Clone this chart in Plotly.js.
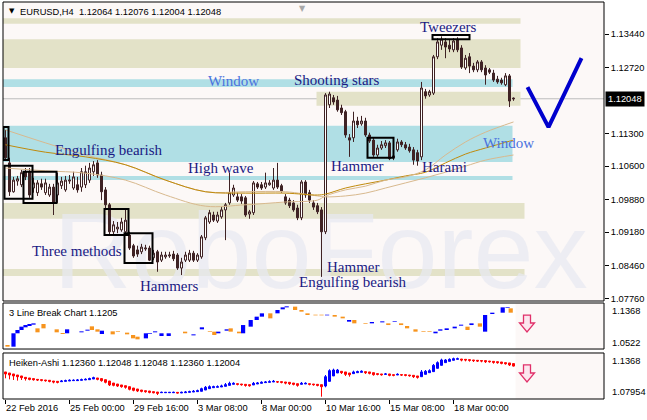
<!DOCTYPE html>
<html><head><meta charset="utf-8">
<script src="https://cdn.plot.ly/plotly-3.0.1.min.js"></script>
<style>html,body{margin:0;padding:0;background:#fff}#chart{width:647px;height:420px}</style>
</head><body><div id="chart"></div>
<script>
// ---------- EURUSD H4 candles (bar index 0..127) ----------
const openP = [1.1121,1.1067,1.1005,1.1028,1.1020,1.1048,1.1048,1.1013,1.1003,1.1022,
1.1003,1.0998,1.1015,1.0998,1.1018,1.1009,1.1028,1.1013,1.1020,1.1015,
1.1020,1.1030,1.1048,1.1067,1.1041,1.1009,1.0977,1.0919,1.0925,1.0923,
1.0919,1.0912,1.0889,1.0880,1.0876,1.0882,1.0884,1.0863,1.0876,1.0858,
1.0865,1.0867,1.0871,1.0869,1.0841,1.0858,1.0858,1.0873,1.0858,1.0865,
1.0906,1.0940,1.0955,1.0942,1.0951,1.0966,1.0981,1.0998,1.0994,1.0994,
1.0992,1.0957,1.0960,1.1022,1.1020,1.1015,1.1020,1.1013,1.1030,1.1018,
1.0994,1.0987,1.0981,1.0970,1.0949,1.1026,1.1003,1.0981,1.0975,1.0966,
1.0919,1.1192,1.1207,1.1202,1.1185,1.1177,1.1121,1.1121,1.1157,1.1151,
1.1157,1.1127,1.1116,1.1084,1.1099,1.1104,1.1110,1.1082,1.1095,1.1112,
1.1106,1.1101,1.1095,1.1089,1.1080,1.1220,1.1213,1.1217,1.1295,1.1320,
1.1327,1.1320,1.1310,1.1331,1.1314,1.1271,1.1295,1.1275,1.1267,1.1284,
1.1271,1.1267,1.1260,1.1247,1.1245,1.1235,1.1254,1.12064];
const highP = [1.1138,1.1078,1.1037,1.1039,1.1052,1.1056,1.1056,1.1035,1.1030,1.1033,
1.1033,1.1022,1.1022,1.1046,1.1037,1.1039,1.1041,1.1048,1.1037,1.1056,
1.1061,1.1067,1.1071,1.1073,1.1048,1.1015,1.0981,1.0942,1.0940,1.0949,
1.0966,1.0919,1.0893,1.0889,1.0893,1.0891,1.0889,1.0880,1.0880,1.0876,
1.0876,1.0876,1.0878,1.0873,1.0863,1.0876,1.0880,1.0878,1.0873,1.0912,
1.0953,1.0966,1.0962,1.0962,1.0972,1.0981,1.1046,1.1020,1.1003,1.1000,
1.0996,1.0966,1.1028,1.1026,1.1026,1.1046,1.1030,1.1056,1.1067,1.1022,
1.1000,1.0992,1.0987,1.0977,1.1030,1.1030,1.1009,1.0987,1.0981,1.0972,
1.1217,1.1220,1.1213,1.1211,1.1192,1.1181,1.1129,1.1177,1.1166,1.1168,
1.1164,1.1132,1.1121,1.1106,1.1114,1.1116,1.1114,1.1095,1.1119,1.1116,
1.1112,1.1108,1.1101,1.1095,1.1241,1.1226,1.1224,1.1299,1.1335,1.1339,
1.1335,1.1331,1.1335,1.1337,1.1320,1.1299,1.1303,1.1282,1.1288,1.1288,
1.1277,1.1271,1.1267,1.1254,1.1250,1.1260,1.1258,1.12076];
const lowP = [1.1073,1.0996,1.1003,1.1018,1.1015,1.1030,1.0992,1.1003,1.0996,1.1009,
1.0998,1.0994,1.0955,1.0981,1.1011,1.1005,1.1022,1.1009,1.1003,1.1005,
1.1013,1.1024,1.1039,1.1035,1.0987,1.0970,1.0914,1.0910,1.0916,1.0919,
1.0914,1.0880,1.0863,1.0865,1.0871,1.0878,1.0856,1.0858,1.0833,1.0854,
1.0861,1.0863,1.0856,1.0837,1.0826,1.0854,1.0854,1.0854,1.0854,1.0861,
1.0901,1.0936,1.0940,1.0938,1.0947,1.0901,1.0977,1.0994,1.0983,1.0979,
1.0951,1.0947,1.0955,1.1011,1.1009,1.1011,1.1018,1.1009,1.1011,1.1003,
1.0977,1.0970,1.0962,1.0944,1.0944,1.0992,1.0981,1.0966,1.0957,1.0822,
1.0914,1.1185,1.1192,1.1177,1.1170,1.1121,1.1080,1.1112,1.1142,1.1147,
1.1123,1.1110,1.1080,1.1080,1.1095,1.1099,1.1073,1.1073,1.1091,1.1101,
1.1095,1.1089,1.1063,1.1061,1.1073,1.1205,1.1209,1.1213,1.1290,1.1310,
1.1292,1.1305,1.1305,1.1305,1.1269,1.1267,1.1260,1.1262,1.1262,1.1262,
1.1235,1.1258,1.1241,1.1237,1.1235,1.1232,1.1187,1.12004];
const closeP = [1.1078,1.1005,1.1030,1.1033,1.1046,1.1037,1.0998,1.1024,1.1024,1.1015,
1.1024,1.1015,1.0981,1.1024,1.1028,1.1030,1.1030,1.1037,1.1009,1.1048,
1.1048,1.1056,1.1063,1.1041,1.1005,1.0977,1.0919,1.0934,1.0929,1.0940,
1.0944,1.0884,1.0867,1.0871,1.0886,1.0884,1.0858,1.0873,1.0854,1.0869,
1.0869,1.0869,1.0861,1.0841,1.0854,1.0869,1.0873,1.0858,1.0869,1.0908,
1.0949,1.0960,1.0944,1.0955,1.0966,1.0977,1.1003,1.1013,1.0987,1.0985,
1.0955,1.0962,1.1024,1.1015,1.1013,1.1024,1.1024,1.1030,1.1015,1.1007,
1.0981,1.0975,1.0966,1.0949,1.1026,1.0998,1.0987,1.0972,1.0962,1.0919,
1.1213,1.1215,1.1198,1.1181,1.1175,1.1127,1.1116,1.1157,1.1149,1.1157,
1.1127,1.1114,1.1084,1.1099,1.1106,1.1110,1.1076,1.1078,1.1112,1.1106,
1.1099,1.1093,1.1073,1.1071,1.1228,1.1211,1.1220,1.1295,1.1327,1.1333,
1.1316,1.1312,1.1329,1.1310,1.1273,1.1292,1.1275,1.1267,1.1284,1.1267,
1.1256,1.1262,1.1245,1.1241,1.1239,1.1254,1.1200,1.12048];

// ---------- moving averages (sampled) ----------
const maBars = [0,10,20,30,40,50,60,70,78,80,85,90,95,100,105,110,115,120,127];
const maFast = [1.1056,1.1050,1.1045,1.1030,1.0998,1.0974,1.0977,1.0983,1.0987,1.0996,1.1009,1.1017,1.1030,1.1037,1.1052,1.1084,1.1112,1.1133,1.1155];
const maMid  = [1.1106,1.1090,1.1080,1.1063,1.1030,1.1005,1.1002,1.1002,1.0998,1.1000,1.1013,1.1022,1.1030,1.1039,1.1047,1.1067,1.1086,1.1099,1.1116];
const maSlow = [1.1138,1.1110,1.1084,1.1063,1.1030,1.1005,1.1005,1.1005,1.0996,1.0994,1.0996,1.1002,1.1013,1.1024,1.1035,1.1047,1.1060,1.1073,1.1084];

// ---------- support / resistance zones ----------
const zoneFrom = [-0.625,-0.625,77.75,-0.625,-0.625,-0.625,-0.625,-0.625];
const zoneTo   = [128.75,128.75,128.75,129.75,129.75,126.75,126.75,126.75];
const zoneTop  = [1.1378,1.1333,1.1220,1.0981,1.0839,1.1247,1.1147,1.1039];
const zoneBot  = [1.1366,1.1271,1.1190,1.0947,1.0824,1.1230,1.1069,1.1030];
const zoneKind = ['beige','beige','beige','beige','beige','blue','blue','blue'];

// ---------- pattern frames ----------
const boxFrom = [-0.5,-0.25,4.5,24.75,29.75,90.5,106.75];
const boxTo   = [0.75,6.75,12.75,30.75,36.75,97,116];
const boxTop  = [1.1144,1.1061,1.1048,1.0968,1.0916,1.1121,1.1342];
const boxBot  = [1.1073,1.0990,1.0981,1.0912,1.0852,1.1078,1.1333];

// ---------- pattern labels ----------
const labelText  = ['Window','Shooting stars','Tweezers','Engulfing bearish','High wave','Hammer','Harami','Window','Three methods','Hammers','Hammer','Engulfing bearish'];
const labelBar   = [56.9,82.9,110.75,25.9,53.75,87.75,109.75,125.75,17.75,40.75,86.75,86.75];
const labelPrice = [1.1243,1.1245,1.1360,1.1095,1.1056,1.1061,1.1058,1.1110,1.0878,1.0802,1.0843,1.0811];
const labelKind  = ['window','pattern','pattern','pattern','pattern','pattern','pattern','window','pattern','pattern','pattern','pattern'];

// ---------- forecast tick mark ----------
const vBars = [130.5,135.75,144];
const vPrices = [1.1230,1.1144,1.1292];

const lastPrice = 1.12048;

// ---------- 3 Line Break panel ----------
const lbX = [0.5,2,3,4,5,6,7,8,9.5,12.8,14.3,15.4,19,20.5,21.6,23,24.1,26.8,28.1,30.4,31.9,33,35.1,36.1,37.4,39,40.8,44.9,47,49.1,51.1,52.2,53.2,55.3,56.3,58.4,59.4,61.3,62.8,64.1,66.2,68,69.3,70.3,72.4,74,75.5,77.5,79,80.4,82.3,84.3,85.9,87.2,90,91.6,94.2,95.7,97.3,98.9,100.4,102.5,104.5,106,107.5,108.7,110.3,112.3,113.9,115.5,116.5,118.6,119.9,121.7,124.3,125.5,126.3];
const lbLow = [1.0565,1.0565,1.0811,1.0872,1.0921,1.0945,1.0970,1.0829,1.0902,1.0829,1.0798,1.0811,1.0829,1.0859,1.0872,1.0841,1.0798,1.0792,1.0835,1.0792,1.0718,1.0700,1.0718,1.0804,1.0829,1.0761,1.0761,1.0811,1.0773,1.0884,1.0835,1.0780,1.0811,1.0859,1.0841,1.0811,1.0811,1.0933,1.1055,1.1117,1.1086,1.1178,1.1252,1.1288,1.1239,1.1209,1.1147,1.1141,1.1141,1.1141,1.1117,1.1086,1.1025,1.0994,1.0988,1.0994,1.1012,1.0963,1.1019,1.0963,1.0902,1.0841,1.0835,1.0835,1.0811,1.0859,1.0872,1.0902,1.0951,1.0872,1.0963,1.0933,1.0841,1.1166,1.1190,1.1282,1.1190];
const lbHigh = [1.0596,1.0811,1.0872,1.0933,1.0963,1.0982,1.0994,1.0902,1.0982,1.0884,1.0817,1.0884,1.0847,1.0878,1.0939,1.0884,1.0859,1.0847,1.0847,1.0823,1.0780,1.0749,1.0811,1.0817,1.0847,1.0811,1.0811,1.0841,1.0792,1.0921,1.0847,1.0841,1.0841,1.0884,1.0902,1.0841,1.0963,1.1055,1.1117,1.1178,1.1178,1.1239,1.1288,1.1307,1.1301,1.1239,1.1178,1.1153,1.1153,1.1153,1.1147,1.1117,1.1055,1.1055,1.1000,1.1019,1.1031,1.0994,1.1031,1.0994,1.0945,1.0884,1.0847,1.0847,1.0841,1.0884,1.0902,1.0933,1.0970,1.0933,1.0994,1.0994,1.1147,1.1190,1.1288,1.1294,1.1270];
const lbDir = ['dn','up','up','up','up','up','up','dn','dn','dn','dn','up','up','up','dn','dn','up','dn','dn','dn','dn','dn','up','up','up','up','up','dn','up','up','dn','dn','up','up','dn','dn','up','up','up','up','dn','up','up','up','dn','dn','dn','dn','dn','up','dn','dn','up','dn','dn','up','up','dn','up','dn','dn','dn','dn','dn','up','up','up','up','up','dn','up','dn','up','up','up','up','dn'];

// ---------- Heiken-Ashi panel ----------
const haO = [1.1132,1.1119,1.1107,1.1094,1.1082,1.1065,1.1057,1.1049,1.1040,1.1036,
1.1032,1.1028,1.1019,1.1015,1.1011,1.1015,1.1019,1.1024,1.1024,1.1028,
1.1032,1.1036,1.1044,1.1057,1.1049,1.1036,1.1019,1.0994,1.0982,1.0970,
1.0961,1.0949,1.0932,1.0920,1.0907,1.0899,1.0895,1.0887,1.0882,1.0874,
1.0874,1.0874,1.0874,1.0878,1.0870,1.0874,1.0878,1.0882,1.0887,1.0891,
1.0907,1.0924,1.0936,1.0941,1.0945,1.0953,1.0965,1.0978,1.0986,1.0982,
1.0978,1.0974,1.0970,1.0982,1.0990,1.0999,1.1003,1.1007,1.1011,1.1011,
1.1007,1.1003,1.0994,1.0986,1.0978,1.0982,1.0986,1.0982,1.0978,1.0974,
1.0957,1.1015,1.1082,1.1119,1.1140,1.1132,1.1119,1.1111,1.1123,1.1127,
1.1136,1.1132,1.1123,1.1111,1.1107,1.1102,1.1107,1.1098,1.1094,1.1098,
1.1098,1.1094,1.1090,1.1082,1.1073,1.1102,1.1123,1.1136,1.1177,1.1214,
1.1248,1.1264,1.1277,1.1289,1.1293,1.1289,1.1285,1.1281,1.1277,1.1273,
1.1273,1.1268,1.1264,1.1260,1.1256,1.1248,1.1244,1.1236];
const haC = [1.1107,1.1094,1.1082,1.1073,1.1061,1.1049,1.1040,1.1036,1.1032,1.1028,
1.1024,1.1015,1.1007,1.1003,1.1019,1.1024,1.1028,1.1028,1.1032,1.1036,
1.1040,1.1049,1.1061,1.1040,1.1024,1.1003,1.0970,1.0965,1.0957,1.0949,
1.0941,1.0916,1.0903,1.0895,1.0891,1.0887,1.0878,1.0874,1.0866,1.0878,
1.0878,1.0878,1.0878,1.0870,1.0878,1.0882,1.0887,1.0891,1.0899,1.0924,
1.0941,1.0949,1.0949,1.0949,1.0957,1.0974,1.0990,1.0990,1.0978,1.0974,
1.0965,1.0961,1.0990,1.0994,1.1003,1.1007,1.1011,1.1015,1.1007,1.1003,
1.0994,1.0986,1.0978,1.0965,1.0990,1.0990,1.0978,1.0974,1.0965,1.0949,
1.1073,1.1148,1.1156,1.1156,1.1123,1.1102,1.1098,1.1132,1.1136,1.1140,
1.1123,1.1115,1.1098,1.1102,1.1098,1.1107,1.1090,1.1090,1.1102,1.1094,
1.1090,1.1086,1.1073,1.1065,1.1132,1.1140,1.1148,1.1214,1.1248,1.1281,
1.1281,1.1289,1.1297,1.1297,1.1281,1.1281,1.1277,1.1273,1.1268,1.1268,
1.1260,1.1260,1.1252,1.1248,1.1239,1.1235,1.1219,1.1205];
const haH = [1.1132,1.1119,1.1107,1.1094,1.1082,1.1065,1.1057,1.1049,1.1040,1.1036,
1.1032,1.1028,1.1019,1.1015,1.1032,1.1036,1.1040,1.1040,1.1044,1.1049,
1.1053,1.1061,1.1073,1.1057,1.1049,1.1036,1.1019,1.0994,1.0982,1.0970,
1.0961,1.0949,1.0932,1.0920,1.0907,1.0899,1.0895,1.0887,1.0882,1.0887,
1.0882,1.0882,1.0887,1.0878,1.0887,1.0895,1.0899,1.0907,1.0912,1.0936,
1.0957,1.0965,1.0961,1.0965,1.0974,1.0994,1.1011,1.1003,1.0986,1.0982,
1.0978,1.0974,1.1007,1.1007,1.1015,1.1019,1.1028,1.1032,1.1011,1.1011,
1.1007,1.1003,1.0994,1.0986,1.1007,1.1003,1.0986,1.0982,1.0978,1.0974,
1.1094,1.1165,1.1173,1.1169,1.1140,1.1132,1.1119,1.1148,1.1148,1.1152,
1.1136,1.1132,1.1123,1.1111,1.1107,1.1119,1.1107,1.1098,1.1115,1.1098,
1.1098,1.1094,1.1090,1.1082,1.1156,1.1156,1.1165,1.1231,1.1264,1.1297,
1.1293,1.1301,1.1310,1.1310,1.1293,1.1289,1.1285,1.1281,1.1277,1.1273,
1.1273,1.1268,1.1264,1.1260,1.1256,1.1248,1.1244,1.1236];
const haL = [1.1053,1.1040,1.1032,1.1024,1.1032,1.1024,1.1028,1.1024,1.1019,1.1015,
1.1011,1.1003,1.0990,1.0990,1.1011,1.1015,1.1019,1.1024,1.1024,1.1028,
1.1032,1.1036,1.1044,1.1028,1.1011,1.0990,1.0957,1.0953,1.0945,1.0936,
1.0924,1.0903,1.0891,1.0882,1.0878,1.0874,1.0866,1.0866,1.0845,1.0874,
1.0874,1.0874,1.0874,1.0866,1.0870,1.0874,1.0878,1.0882,1.0887,1.0891,
1.0907,1.0924,1.0936,1.0941,1.0945,1.0953,1.0965,1.0978,1.0965,1.0961,
1.0949,1.0949,1.0970,1.0982,1.0990,1.0999,1.1003,1.1007,1.0994,1.0990,
1.0978,1.0970,1.0965,1.0949,1.0978,1.0982,1.0965,1.0961,1.0953,1.0824,
1.0941,1.1015,1.1082,1.1119,1.1107,1.1082,1.1073,1.1111,1.1123,1.1127,
1.1107,1.1102,1.1086,1.1090,1.1086,1.1102,1.1078,1.1078,1.1094,1.1082,
1.1078,1.1073,1.1057,1.1049,1.1073,1.1102,1.1123,1.1136,1.1177,1.1214,
1.1248,1.1264,1.1277,1.1289,1.1264,1.1264,1.1260,1.1256,1.1256,1.1252,
1.1244,1.1248,1.1235,1.1235,1.1227,1.1223,1.1206,1.1200];

// ---------- axis ticks ----------
const timeTickBars = [0,16,32,48,64,80,96,112];
const timeTickLabels = ['22 Feb 2016','25 Feb 00:00','29 Feb 16:00','3 Mar 08:00','8 Mar 00:00','10 Mar 16:00','15 Mar 08:00','18 Mar 00:00'];
const priceTicks = [1.1344,1.1272,1.1130,1.1060,1.0988,1.0918,1.0846,1.0776];
const priceTickLabels = ['1.13440','1.12720','1.11300','1.10600','1.09880','1.09180','1.08460','1.07760'];

// ---------- build ----------
const bars = openP.map((_, i) => i);
const CANDLE = '#3f2224';
const SANS = 'Liberation Sans, Arial, sans-serif';
const SERIF = 'Liberation Serif, Times New Roman, serif';
const TXT = 9.3;

const traces = [];
// watermark: text of an invisible bar so that it sits beneath the candles
traces.push({type:'bar', x:[78.75], base:[1.1012], y:[-0.0003], width:0.01, xaxis:'x', yaxis:'y',
  marker:{color:'rgba(0,0,0,0)', line:{width:0}}, text:['RoboForex'], textposition:'outside', textangle:0,
  constraintext:'none', cliponaxis:true, outsidetextfont:{family:SANS, size:108, color:'rgba(232,233,241,0.72)'},
  hoverinfo:'skip', showlegend:false});
traces.push({type:'candlestick', x:bars, open:openP, high:highP, low:lowP, close:closeP,
  xaxis:'x', yaxis:'y', whiskerwidth:0, hoverinfo:'skip', showlegend:false,
  increasing:{line:{color:CANDLE, width:1}, fillcolor:'#FFFFFF'},
  decreasing:{line:{color:CANDLE, width:1}, fillcolor:CANDLE}});
[[maSlow,'#D8B98E'],[maMid,'#C08A0C'],[maFast,'#D8B98E']].forEach(([v,c]) => {
  traces.push({type:'scatter', mode:'lines', x:maBars, y:v, xaxis:'x', yaxis:'y',
    line:{color:c, width:1, shape:'spline', smoothing:1}, hoverinfo:'skip', showlegend:false});
});
traces.push({type:'scatter', mode:'lines', x:vBars, y:vPrices, xaxis:'x', yaxis:'y',
  line:{color:'#0000CD', width:4}, hoverinfo:'skip', showlegend:false, cliponaxis:false});
traces.push({type:'bar', x:lbX, base:lbLow, y:lbHigh.map((h,i)=>h-lbLow[i]), width:1.05,
  xaxis:'x', yaxis:'y2', marker:{color:lbDir.map(d => d==='up' ? '#0000FF' : '#F7941D'), line:{width:0}},
  hoverinfo:'skip', showlegend:false});
traces.push({type:'candlestick', x:bars, open:haO, high:haH, low:haL, close:haC,
  xaxis:'x', yaxis:'y3', whiskerwidth:0, hoverinfo:'skip', showlegend:false,
  increasing:{line:{color:'#0000FF', width:1}, fillcolor:'#0000FF'},
  decreasing:{line:{color:'#FF0000', width:1}, fillcolor:'#FF0000'}});

const shapes = [];
['y2','y3'].forEach(ax => shapes.push({type:'rect', xref:'x', x0:-0.625, x1:127.5, yref:ax+' domain', y0:0, y1:1,
  fillcolor:'#FFFFFF', line:{width:0}, layer:'below'}));
zoneFrom.forEach((f,i) => shapes.push({type:'rect', xref:'x', yref:'y', x0:f, x1:zoneTo[i], y0:zoneBot[i], y1:zoneTop[i],
  fillcolor: zoneKind[i]==='beige' ? '#E3E2C8' : '#B0DFE5', line:{width:0}, layer:'below'}));
shapes.push({type:'line', xref:'paper', x0:0, x1:1, yref:'y', y0:lastPrice, y1:lastPrice, line:{color:'#BDBDBD', width:1}, layer:'below'});
boxFrom.forEach((f,i) => shapes.push({type:'rect', xref:'x', yref:'y', x0:f, x1:boxTo[i], y0:boxBot[i], y1:boxTop[i],
  line:{color:'#000000', width:2}, fillcolor:'rgba(0,0,0,0)', layer:'above'}));
function arrow(yref, top, mid, tip){
  return {type:'path', xref:'x', yref:yref, layer:'above',
    path:`M 129.5 ${top} L 131.25 ${top} L 131.25 ${mid} L 132.25 ${mid} L 130.375 ${tip} L 128.5 ${mid} L 129.5 ${mid} Z`,
    fillcolor:'#FCE6EE', line:{color:'#E0306A', width:1.3}};
}
shapes.push(arrow('y2', 1.1147, 1.1000, 1.0835));
shapes.push(arrow('y3', 1.1219, 1.1119, 1.1007));
['y','y2','y3'].forEach(ax => shapes.push({type:'rect', xref:'paper', x0:0, x1:1, yref:ax+' domain', y0:0, y1:1,
  line:{color:'#000000', width:1}, fillcolor:'rgba(0,0,0,0)', layer:'above'}));

const annotations = [];
labelText.forEach((t,i) => annotations.push({text:t, x:labelBar[i], y:labelPrice[i], xref:'x', yref:'y',
  showarrow:false, xanchor:'center', yanchor:'middle',
  font:{family:SERIF, size:15, color: labelKind[i]==='window' ? '#4A72DE' : '#1A1A84'}}));
annotations.push({text:'▼', xref:'paper', x:0, xshift:4, xanchor:'left', yref:'y', y:1.1393, yanchor:'middle', showarrow:false,
  font:{family:'DejaVu Sans', size:7, color:'#000'}});
annotations.push({text:'EURUSD,H4\u00a0\u00a01.12064 1.12076 1.12004 1.12048', xref:'paper', x:0, xshift:15, xanchor:'left',
  yref:'y', y:1.1391, yanchor:'middle', showarrow:false, font:{family:SANS, size:TXT, color:'#000'}});
annotations.push({text:'▼', x:74.25, xref:'x', yref:'y domain', y:1, yanchor:'top', yshift:0, showarrow:false,
  font:{family:'DejaVu Sans', size:8, color:'#A8A8A8'}});
annotations.push({text:'3 Line Break Chart 1.1205', xref:'paper', x:0, xshift:4, xanchor:'left', yref:'y2', y:1.1184,
  yanchor:'middle', showarrow:false, font:{family:SANS, size:TXT, color:'#000'}});
annotations.push({text:'Heiken-Ashi 1.12360 1.12048 1.12048 1.12360 1.12004', xref:'paper', x:0, xshift:4, xanchor:'left',
  yref:'y3', y:1.1244, yanchor:'middle', showarrow:false, font:{family:SANS, size:TXT, color:'#000'}});
annotations.push({text:lastPrice.toFixed(5), xref:'paper', x:1, xanchor:'left', xshift:1, yref:'y', y:lastPrice, yanchor:'middle',
  showarrow:false, bgcolor:'#000000', borderpad:2, font:{family:SANS, size:TXT, color:'#FFFFFF'}});
[['y2','1.1368',1,'top',-1],['y2','1.0522',0,'bottom',-1],['y3','1.1368',1,'top',-1],['y3','1.07954',0,'bottom',0]].forEach(a => {
  annotations.push({text:a[1], xref:'paper', x:1, xanchor:'left', xshift:6, yref:a[0]+' domain', y:a[2], yanchor:a[3], yshift:a[4],
    showarrow:false, font:{family:SANS, size:TXT, color:'#000'}});
});

const axFont = {family:SANS, size:TXT, color:'#000'};
const layout = {
  width:647, height:420, margin:{l:3, r:43, t:2, b:21},
  paper_bgcolor:'#FFFFFF', plot_bgcolor:'#FCF8F7', showlegend:false, hovermode:false,
  boxgap:0.5, boxgroupgap:0,
  font:{family:SANS, size:TXT, color:'#000'},
  xaxis:{domain:[0,1], range:[-0.625,149.625], anchor:'y3', tickvals:timeTickBars, ticktext:timeTickLabels,
    ticks:'outside', ticklen:4, tickcolor:'#000', tickfont:axFont, ticklabelposition:'outside right',
    showgrid:false, zeroline:false, showline:false, rangeslider:{visible:false}, fixedrange:true},
  yaxis:{domain:[0.24685,1], range:[1.07702,1.14128], side:'right', anchor:'x', tickvals:priceTicks, ticktext:priceTickLabels,
    ticks:'outside', ticklen:4, tickcolor:'#000', tickfont:axFont, showgrid:false, zeroline:false, showline:false, fixedrange:true},
  yaxis2:{domain:[0.1259,0.2418], range:[1.0522,1.1368], side:'right', anchor:'x', showticklabels:false, ticks:'',
    showgrid:false, zeroline:false, showline:false, fixedrange:true},
  yaxis3:{domain:[0,0.1159], range:[1.07954,1.1368], side:'right', anchor:'x', showticklabels:false, ticks:'',
    showgrid:false, zeroline:false, showline:false, fixedrange:true},
  shapes:shapes, annotations:annotations
};
Plotly.newPlot('chart', traces, layout, {staticPlot:true, displayModeBar:false});
</script></body></html>
